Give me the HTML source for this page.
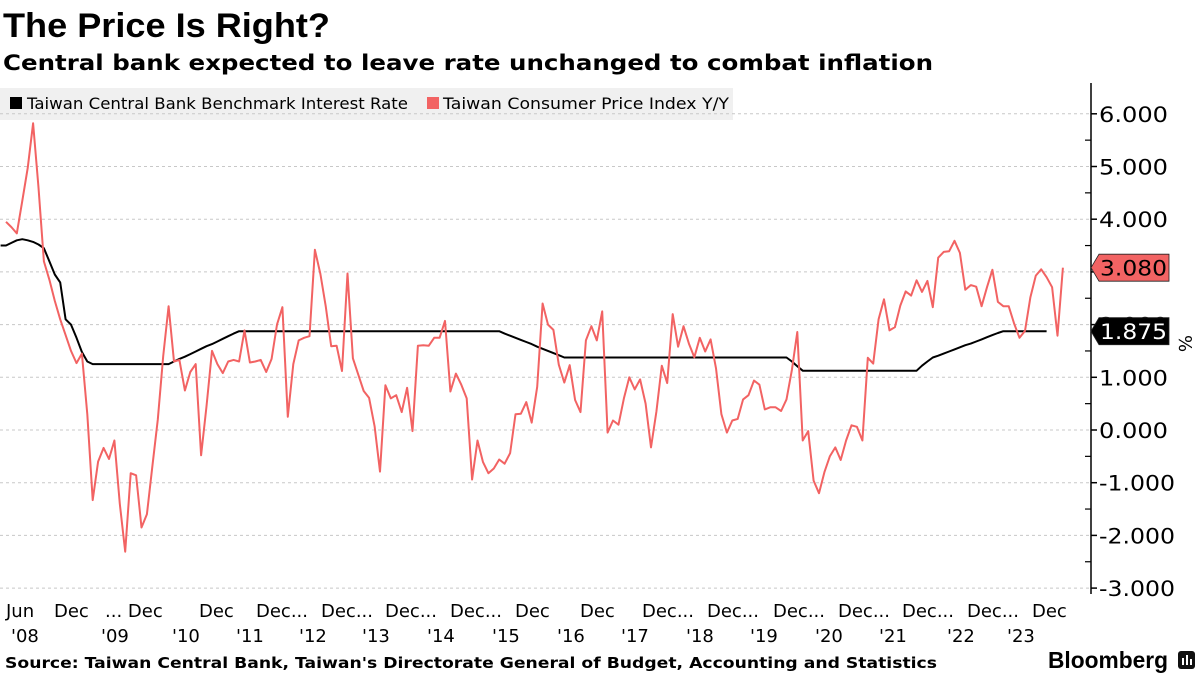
<!DOCTYPE html>
<html><head><meta charset="utf-8">
<style>
html,body{margin:0;padding:0;background:#fff;}
svg{display:block;}
</style></head>
<body>
<svg id="chart" width="1200" height="675" viewBox="0 0 1200 675" xmlns="http://www.w3.org/2000/svg">
  <text x="3" y="37" font-family="Liberation Sans, sans-serif" font-weight="bold" font-size="34" textLength="327" lengthAdjust="spacingAndGlyphs">The Price Is Right?</text>
  <text x="3" y="70" font-family="DejaVu Sans, sans-serif" font-weight="bold" font-size="21" textLength="930" lengthAdjust="spacingAndGlyphs">Central bank expected to leave rate unchanged to combat inflation</text>
  <g>
    <rect x="0" y="88" width="733" height="32" fill="#f0f0f0"/>
    <rect x="10" y="97" width="12" height="12" fill="#000"/>
    <text x="27" y="109" font-family="DejaVu Sans, sans-serif" font-size="16" textLength="381" lengthAdjust="spacingAndGlyphs">Taiwan Central Bank Benchmark Interest Rate</text>
    <rect x="427" y="97" width="12" height="12" fill="#f26363"/>
    <text x="443" y="109" font-family="DejaVu Sans, sans-serif" font-size="16" textLength="286" lengthAdjust="spacingAndGlyphs">Taiwan Consumer Price Index Y/Y</text>
  </g>
  <g id="grid"></g>
  <g id="series"></g>
  <g id="yaxis"></g>
  <g id="xaxis" font-family="DejaVu Sans, sans-serif" font-size="18"></g>
  <text transform="translate(1179,335) rotate(90)" font-family="DejaVu Sans, sans-serif" font-size="18">%</text>
  <text x="5" y="668" font-family="DejaVu Sans, sans-serif" font-weight="bold" font-size="15" textLength="932" lengthAdjust="spacingAndGlyphs">Source: Taiwan Central Bank, Taiwan's Directorate General of Budget, Accounting and Statistics</text>
  <text x="1048" y="668" font-family="Liberation Sans, sans-serif" font-weight="bold" font-size="23" textLength="120" lengthAdjust="spacingAndGlyphs">Bloomberg</text>
  <g>
    <rect x="1178" y="651" width="17" height="18" rx="3" fill="#111"/>
    <rect x="1182" y="658" width="2" height="7" fill="#fff"/>
    <rect x="1186" y="655" width="2" height="10" fill="#fff"/>
    <rect x="1190" y="659" width="2" height="6" fill="#fff"/>
  </g>
</svg>
<script>
const yTicks = [6, 5, 4, 3, 2, 1, 0, -1, -2, -3];
const yTickLabels = ["6.000","5.000","4.000","3.000","2.000","1.000","0.000","-1.000","-2.000","-3.000"];
const xRow1Labels = ["Jun","Dec","... Dec","Dec","Dec...","Dec...","Dec...","Dec...","Dec","Dec","Dec...","Dec...","Dec...","Dec...","Dec...","Dec...","Dec"];
const xRow2Labels = ["'08","'09","'10","'11","'12","'13","'14","'15","'16","'17","'18","'19","'20","'21","'22","'23"];
const cpiValues = [3.95,3.85,3.73,4.35,4.97,5.82,4.6,3.2,2.85,2.45,2.1,1.8,1.5,1.27,1.45,0.3,-1.33,-0.6,-0.34,-0.55,-0.2,-1.4,-2.31,-0.82,-0.86,-1.85,-1.6,-0.7,0.2,1.4,2.35,1.3,1.33,0.75,1.1,1.25,-0.48,0.45,1.5,1.25,1.08,1.3,1.33,1.3,1.89,1.28,1.3,1.33,1.1,1.35,2.0,2.33,0.25,1.25,1.7,1.75,1.78,
3.42,2.96,2.34,1.59,1.6,
1.12,2.97,1.36,1.05,0.74,0.61,0.07,-0.79,0.85,0.6,0.66,0.34,
0.8,-0.02,1.6,1.61,1.6,1.75,1.75,2.07,0.73,1.07,0.86,0.6,
-0.94,-0.2,-0.61,-0.82,-0.73,-0.56,-0.64,-0.44,0.3,0.31,0.53,0.14,
0.82,2.4,2.0,1.9,1.24,0.9,1.23,0.57,0.34,1.7,1.97,1.7,
2.25,-0.05,0.18,0.1,0.6,1.0,0.77,0.96,0.5,-0.33,0.35,1.22,
0.89,2.2,1.58,1.97,1.64,1.38,1.75,1.49,1.72,1.17,0.3,-0.05,
0.18,0.21,0.58,0.66,0.94,0.86,0.39,0.43,0.43,0.36,0.58,1.14,
1.86,-0.2,-0.02,-0.96,-1.2,-0.8,-0.5,-0.33,-0.57,-0.2,0.09,0.06,
-0.2,1.37,1.26,2.1,2.48,1.89,1.95,2.36,2.63,2.55,2.84,2.62,
2.83,2.33,3.27,3.38,3.39,3.59,3.36,2.66,2.75,2.72,2.35,2.71,
3.04,2.43,2.35,2.35,2.02,1.75,1.88,2.52,2.93,3.05,2.9,2.71,
1.79,3.08];
const rateValues = [3.5,3.5,3.55,3.6,3.62,3.6,3.57,3.52,3.45,3.2,2.95,2.8,2.1,2.0,1.75,1.48,1.3,1.25,
1.25,1.25,1.25,1.25,1.25,1.25,1.25,1.25,1.25,1.25,1.25,1.25,1.25,1.25,
1.3,1.35,1.39,1.44,1.49,1.54,1.59,1.63,1.68,1.73,1.78,1.83,1.875,
1.875,1.875,1.875,1.875,1.875,1.875,1.875,1.875,1.875,1.875,1.875,1.875,
1.875,1.875,1.875,1.875,1.875,1.875,1.875,1.875,1.875,1.875,1.875,1.875,
1.875,1.875,1.875,1.875,1.875,1.875,1.875,1.875,1.875,1.875,1.875,1.875,
1.875,1.875,1.875,1.875,1.875,1.875,1.875,1.875,1.875,1.875,1.875,1.875,
1.83,1.79,1.75,1.71,1.67,1.63,1.58,1.54,1.5,1.46,1.42,1.375,
1.375,1.375,1.375,1.375,1.375,1.375,1.375,1.375,1.375,1.375,1.375,1.375,1.375,1.375,
1.375,1.375,1.375,1.375,1.375,1.375,1.375,1.375,1.375,1.375,1.375,1.375,1.375,1.375,
1.375,1.375,1.375,1.375,1.375,1.375,1.375,1.375,1.375,1.375,1.375,1.375,1.375,
1.3,1.21,1.125,
1.125,1.125,1.125,1.125,1.125,1.125,1.125,1.125,1.125,1.125,1.125,1.125,1.125,1.125,1.125,1.125,1.125,1.125,1.125,1.125,1.125,
1.22,1.3,1.375,
1.41,1.45,1.49,1.53,1.57,1.61,1.64,1.68,1.72,1.76,1.8,1.84,1.875,
1.875,1.875,1.875,1.875,1.875,1.875,1.875,1.875];
const lastCpiLabel = "3.080";
const lastRateLabel = "1.875";

const NS = "http://www.w3.org/2000/svg";
const AXIS_X = 1091;
function yScale(v){ return 430 - 52.7 * v; }
function xScale(slot){ return 6 + 5.42 * slot; }
function mk(tag, attrs, parent){ const e = document.createElementNS(NS, tag); for (const k in attrs) e.setAttribute(k, attrs[k]); parent.appendChild(e); return e; }

const grid = document.getElementById('grid');
const yaxis = document.getElementById('yaxis');
yTicks.forEach((t, i) => {
  const y = yScale(t);
  const gl = mk('line', {x1:0, x2:AXIS_X, y1:y, y2:y, stroke:'#c8c8c8', 'stroke-width':1, 'stroke-dasharray':'3,3'}, grid);
  
  
  const tk = mk('line', {x1:AXIS_X, x2:AXIS_X+6, y1:y, y2:y, stroke:'#000', 'stroke-width':1.5}, yaxis);
  
  
  const tx = mk('text', {x:1099, y:y+8, 'font-family':'DejaVu Sans, sans-serif', 'font-size':21, textLength: yTickLabels[i].length > 5 ? 76 : 69, lengthAdjust:'spacingAndGlyphs'}, yaxis);
  tx.textContent = yTickLabels[i];
  
  
  if (t > -3) {
    const mt = mk('line', {x1:AXIS_X-6, x2:AXIS_X, y1:yScale(t-0.5), y2:yScale(t-0.5), stroke:'#000', 'stroke-width':1.2}, yaxis);
    
    
  }
});
const al = mk('line', {x1:AXIS_X, x2:AXIS_X, y1:83, y2:594, stroke:'#000', 'stroke-width':1.5}, yaxis);



const series = document.getElementById('series');
const ratePts = rateValues.map((v, j) => xScale(j - 1).toFixed(1) + ',' + yScale(v).toFixed(1)).join(' ');
const rl = mk('polyline', {points: ratePts, fill:'none', stroke:'#000', 'stroke-width':2, 'stroke-linejoin':'round'}, series);


const cpiPts = cpiValues.map((v, k) => xScale(k).toFixed(1) + ',' + yScale(v).toFixed(1)).join(' ');
const cl = mk('polyline', {points: cpiPts, fill:'none', stroke:'#f26363', 'stroke-width':2, 'stroke-linejoin':'round'}, series);



function badge(v, label, fill, textColor, name){
  const y = yScale(v);
  const g = mk('g', {}, yaxis);
  
  
  mk('polygon', {points: `${AXIS_X},${y} ${AXIS_X+8},${y-13.5} 1169,${y-13.5} 1169,${y+13.5} ${AXIS_X+8},${y+13.5}`, fill: fill, stroke:'#222', 'stroke-width':0.8}, g);
  const t = mk('text', {x:1100, y:y+8, fill:textColor, 'font-family':'DejaVu Sans, sans-serif', 'font-size':21, textLength:67, lengthAdjust:'spacingAndGlyphs'}, g);
  t.textContent = label;
}
badge(rateValues[rateValues.length-1], lastRateLabel, '#000', '#fff', 'rate-last-value-badge');
badge(cpiValues[cpiValues.length-1], lastCpiLabel, '#f26363', '#000', 'cpi-last-value-badge');

const xaxis = document.getElementById('xaxis');
const row1X = [6,54,105,199,256,321,385,450,515,580,642,707,773,838,902,967,1032];
const row2X = [11,101,172,236,299,362,427,492,557,621,686,750,815,879,947,1007];
xRow1Labels.forEach((s, i) => {
  const t = mk('text', {x: row1X[i], y: 617}, xaxis);
  t.textContent = s;
  
  
});
xRow2Labels.forEach((s, i) => {
  const t = mk('text', {x: row2X[i], y: 642}, xaxis);
  t.textContent = s;
  
  
});
</script>
</body></html>
